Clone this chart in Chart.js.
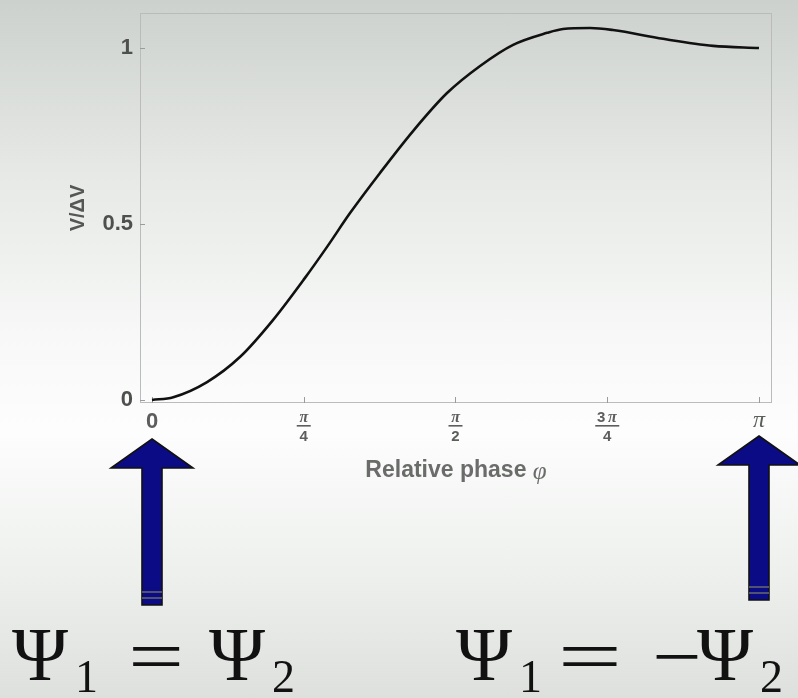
<!DOCTYPE html>
<html>
<head>
<meta charset="utf-8">
<script src="https://cdn.jsdelivr.net/npm/chart.js@4.4.0/dist/chart.umd.min.js"></script>
<style>
  html, body { margin: 0; padding: 0; overflow: hidden; }
  body {
    width: 798px; height: 698px;
    background: linear-gradient(to bottom, #cdd1ce 0%, #e6e9e6 25%, #f7f8f7 48%, #fcfdfc 62%, #eef0ee 82%, #dde0dd 100%);
  }
  #wrap { position: relative; width: 798px; height: 698px; }
</style>
</head>
<body>
<div id="wrap"><canvas id="phaseChart"></canvas></div>
<script>
// 相对相位（弧度）与 V/ΔV
const phase = [0, 0.11, 0.285, 0.455, 0.626, 0.792, 0.906, 1.025, 1.18, 1.351, 1.527, 1.698, 1.869, 2.045, 2.127, 2.267, 2.386, 2.645, 2.904, 3.1416];
const vdv   = [0, 0.008, 0.051, 0.122, 0.227, 0.347, 0.435, 0.531, 0.645, 0.764, 0.872, 0.949, 1.009, 1.043, 1.054, 1.057, 1.051, 1.026, 1.006, 1.0];

// 坐标轴刻度
const yTicks = [0, 0.5, 1];
const xTicks = [0, Math.PI / 4, Math.PI / 2, 3 * Math.PI / 4, Math.PI];
const xTickNum = ['0', 'π', 'π', '3π', 'π'];
const xTickDen = ['', '4', '2', '4', ''];

const xTitle = 'Relative phase ';
const yTitle = 'V/ΔV';

// 图框、内刻度、分数刻度标签、箭头和公式
const decorPlugin = {
    id: 'decor',
    beforeDatasetsDraw(chart) {
        const { ctx, chartArea: a, scales } = chart;
        ctx.save();
        ctx.strokeStyle = '#b9bcba';
        ctx.lineWidth = 1;
        ctx.strokeRect(a.left + 0.5, a.top + 0.5, a.right - a.left - 1, a.bottom - a.top - 1);
        ctx.strokeStyle = '#9a9c9a';
        xTicks.forEach(v => {
            const x = Math.round(scales.x.getPixelForValue(v)) + 0.5;
            ctx.beginPath(); ctx.moveTo(x, a.bottom); ctx.lineTo(x, a.bottom - 6); ctx.stroke();
        });
        yTicks.forEach(v => {
            const y = Math.round(scales.y.getPixelForValue(v)) + 0.5;
            ctx.beginPath(); ctx.moveTo(a.left, y); ctx.lineTo(a.left + 5, y); ctx.stroke();
        });
        ctx.restore();
    },
    afterDraw(chart) {
        const { ctx, chartArea: a, scales } = chart;
        ctx.save();
        ctx.textAlign = 'center';
        ctx.textBaseline = 'middle';

        // x 轴刻度标签
        xTicks.forEach((v, i) => {
            const x = scales.x.getPixelForValue(v);
            ctx.fillStyle = '#5c5e5c';
            if (!xTickDen[i]) {
                if (xTickNum[i] === '0') {
                    ctx.font = 'bold 22px "Liberation Sans"';
                    ctx.fillText('0', x, a.bottom + 19);
                } else {
                    ctx.font = 'italic 24px "Liberation Serif"';
                    ctx.fillText(xTickNum[i], x, a.bottom + 18);
                }
                return;
            }
            const num = xTickNum[i];
            if (num.length > 1) {
                ctx.font = 'bold 15px "Liberation Sans"';
                ctx.fillText(num[0], x - 6, a.bottom + 15);
                ctx.font = 'italic bold 16px "Liberation Serif"';
                ctx.fillText(num.slice(1), x + 5, a.bottom + 15);
            } else {
                ctx.font = 'italic bold 16px "Liberation Serif"';
                ctx.fillText(num, x, a.bottom + 15);
            }
            const half = num.length > 1 ? 12 : 7;
            ctx.fillRect(x - half, a.bottom + 22, half * 2, 1.6);
            ctx.font = 'bold 15px "Liberation Sans"';
            ctx.fillText(xTickDen[i], x, a.bottom + 34);
        });

        // x 轴标题
        ctx.font = 'bold 23px "Liberation Sans"';
        const tw = ctx.measureText(xTitle).width;
        ctx.font = 'italic 25px "Liberation Serif"';
        const pw = ctx.measureText('φ').width;
        const cx = (a.left + a.right) / 2;
        const startX = cx - (tw + pw) / 2;
        ctx.textAlign = 'left';
        ctx.fillStyle = '#6a6c6a';
        ctx.font = 'bold 23px "Liberation Sans"';
        ctx.fillText(xTitle, startX, a.bottom + 68);
        ctx.font = 'italic 25px "Liberation Serif"';
        ctx.fillText('φ', startX + tw, a.bottom + 69);

        // 指向 0 和 π 的箭头
        const arrows = [
            { v: 0, tip: 439, bottom: 605 },
            { v: Math.PI, tip: 436, bottom: 600 }
        ];
        arrows.forEach(ar => {
            const x = scales.x.getPixelForValue(ar.v);
            const headH = 29, headW = 41, shaftW = 10;
            ctx.beginPath();
            ctx.moveTo(x, ar.tip);
            ctx.lineTo(x + headW, ar.tip + headH);
            ctx.lineTo(x + shaftW, ar.tip + headH);
            ctx.lineTo(x + shaftW, ar.bottom);
            ctx.lineTo(x - shaftW, ar.bottom);
            ctx.lineTo(x - shaftW, ar.tip + headH);
            ctx.lineTo(x - headW, ar.tip + headH);
            ctx.closePath();
            ctx.fillStyle = '#0b0b86';
            ctx.fill();
            ctx.strokeStyle = '#111';
            ctx.lineWidth = 1.6;
            ctx.stroke();
            ctx.strokeStyle = '#6a6a6a';
            ctx.lineWidth = 1.5;
            [ar.bottom - 13, ar.bottom - 7].forEach(y => {
                ctx.beginPath(); ctx.moveTo(x - shaftW, y); ctx.lineTo(x + shaftW, y); ctx.stroke();
            });
        });

        // 公式
        ctx.fillStyle = '#111';
        ctx.textAlign = 'left';
        ctx.textBaseline = 'alphabetic';
        const big = '76px "Liberation Serif"';
        const sub = '46px "Liberation Serif"';
        const drawPsi = (x, s) => {
            ctx.font = big; ctx.fillText('Ψ', x, 680);
            ctx.font = sub; ctx.fillText(s, x + 63, 692);
        };
        // 横向拉宽的符号
        const drawWide = (s, cxp, sx) => {
            ctx.save();
            ctx.translate(cxp, 682);
            ctx.scale(sx, 1);
            ctx.font = big; ctx.textAlign = 'center';
            ctx.fillText(s, 0, 0);
            ctx.restore();
        };
        drawPsi(12, '1');
        drawWide('=', 156, 1.3);
        drawPsi(209, '2');
        drawPsi(456, '1');
        drawWide('=', 590, 1.5);
        drawWide('−', 677, 1.15);
        drawPsi(697, '2');
        ctx.restore();
    }
};

function initChart() {
    const ctx = document.getElementById('phaseChart').getContext('2d');
    new Chart(ctx, {
        type: 'line',
        data: {
            datasets: [{
                data: phase.map((p, i) => ({ x: p, y: vdv[i] })),
                borderColor: '#111111',
                borderWidth: 2.6,
                pointRadius: 0,
                fill: false,
                cubicInterpolationMode: 'monotone'
            }]
        },
        options: {
            responsive: true,
            maintainAspectRatio: false,
            animation: false,
            layout: { padding: { top: 13, right: 26, left: 0, bottom: 0 } },
            plugins: {
                legend: { display: false },
                tooltip: { enabled: false }
            },
            scales: {
                x: {
                    type: 'linear',
                    min: -0.0621,
                    max: 3.2089,
                    grid: { display: false },
                    border: { display: false },
                    ticks: { display: false },
                    afterFit(scale) {
                        scale.height = 295;
                        scale.paddingLeft = 0; scale.paddingRight = 0;
                    }
                },
                y: {
                    min: -0.0085,
                    max: 1.0994,
                    grid: { display: false, drawTicks: false },
                    border: { display: false },
                    afterBuildTicks(scale) {
                        scale.ticks = yTicks.map(v => ({ value: v }));
                    },
                    ticks: {
                        padding: 7,
                        color: '#4e504e',
                        font: { family: 'Liberation Sans', size: 22, weight: 'bold' },
                        callback: v => String(v)
                    },
                    title: {
                        display: true,
                        text: yTitle,
                        color: '#555755',
                        font: { family: 'Liberation Sans', size: 20, weight: 'bold' },
                        padding: { top: 66, bottom: 0 }
                    },
                    afterFit(scale) {
                        scale.width = 140;
                        scale.paddingTop = 0; scale.paddingBottom = 0;
                    }
                }
            }
        },
        plugins: [decorPlugin]
    });
}

document.addEventListener('DOMContentLoaded', initChart);
</script>
</body>
</html>
